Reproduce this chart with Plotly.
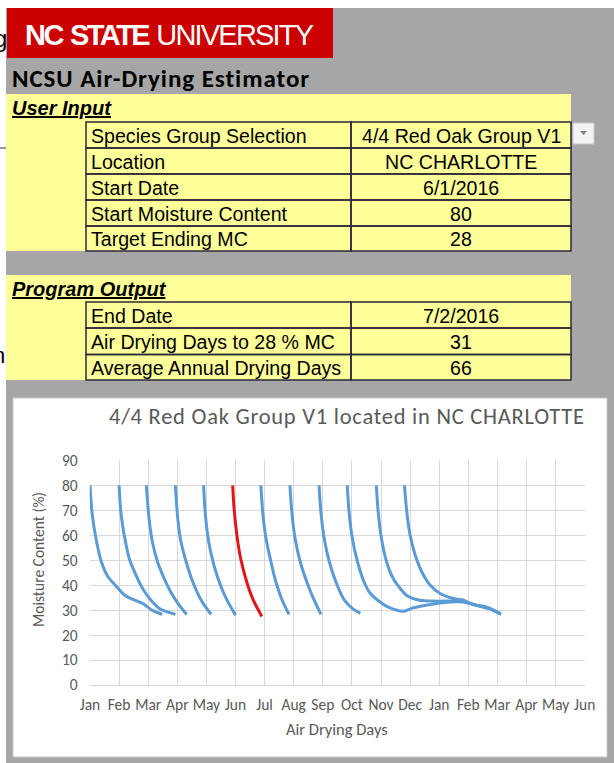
import plotly.graph_objects as go

W, H = 614, 763

# ---------------- data ----------------
tick_labels = ["Jan", "Feb", "Mar", "Apr", "May", "Jun", "Jul", "Aug", "Sep",
               "Oct", "Nov", "Dec", "Jan", "Feb", "Mar", "Apr", "May", "Jun"]
tick_step_days = 31
y_tick_values = [0, 10, 20, 30, 40, 50, 60, 70, 80, 90]

# start day (days after Jan 1 2016) of each drying run
start_days = [0, 31, 60, 91, 121, 152, 182, 213, 244, 274, 305, 335]
highlight_index = 5  # the June 1 run (selected start date)

curve_days = [
    [0, 2.5, 7, 12, 19, 27, 37, 51, 58, 66, 77],
    [0, 2, 5.5, 11, 18, 25, 34, 43, 60],
    [0, 3, 6.5, 12, 19, 26, 35, 43],
    [0, 2.5, 6, 11.5, 18.5, 27.5, 38],
    [0, 2, 5.5, 11, 18, 25, 34],
    [0, 1.5, 4.5, 8.5, 15, 22, 31],
    [0, 2, 5.5, 10, 15, 22, 30],
    [0, 2, 5.5, 11, 18, 25, 33],
    [0, 2, 5.5, 11, 18, 27, 35.5, 44],
    [0, 2, 5.5, 11, 18, 24, 35, 45, 60, 70, 84, 102, 123, 137, 150, 164],
    [0, 2, 5.5, 11, 18, 27, 32, 46, 64, 92, 106, 117, 131],
    [0, 2.5, 6, 11.5, 18.5, 27.5, 38, 52, 63, 70, 84, 91, 102],
]
curve_mc = [
    [80, 68, 57.5, 49.5, 43.5, 40, 36, 33.5, 32.3, 30, 28.3],
    [80, 69, 60, 50.5, 44, 38.7, 34, 30.7, 28.3],
    [80, 66.5, 57.3, 49.3, 42.7, 37.3, 32, 28.3],
    [80, 66.7, 57.3, 49.3, 41.3, 34, 28.3],
    [80, 68, 57.3, 48, 40, 34, 28],
    [80, 70.7, 60, 50.7, 41.3, 34, 27.5],
    [80, 69.3, 58.7, 50.7, 42.7, 34.7, 28.3],
    [80, 69.3, 58.7, 49.3, 41.3, 34.7, 28.3],
    [80, 69.3, 58.7, 49.3, 41.3, 34, 30.7, 28.7],
    [80, 69.3, 58.7, 49.3, 41.3, 37, 33.3, 31, 29.6, 30.9, 32, 33, 33.3, 32, 30.7, 28.3],
    [80, 69.3, 58.7, 49.3, 42.7, 38, 36, 34, 33.6, 33.6, 32, 31.3, 28.7],
    [80, 69.3, 60, 52, 45.3, 40, 36.7, 34.7, 34, 32.7, 31.3, 30.7, 28.7],
]

input_labels = ["Species Group Selection", "Location", "Start Date",
                "Start Moisture Content", "Target Ending MC"]
input_values = ["4/4 Red Oak Group V1", "NC CHARLOTTE", "6/1/2016", "80", "28"]
output_labels = ["End Date", "Air Drying Days to 28 % MC", "Average Annual Drying Days"]
output_values = ["7/2/2016", "31", "66"]

chart_title = "4/4 Red Oak Group V1 located in NC CHARLOTTE"
x_title = "Air Drying Days"
y_title = "Moisture Content (%)"

# ---------------- styling helpers ----------------
ARIAL = "Liberation Sans, Arial, sans-serif"
CALIBRI = "Carlito, Lato, sans-serif"
GRAY_TXT = "#595959"
BLUE = "#5b9bd5"
RED = "#e3151b"
YELLOW = "#ffff99"
BORDER = "#2a2a3a"


def px(x):
    return x / W


def py(y):
    return 1 - y / H


shapes = []
annotations = []


def rect(x0, y0, x1, y1, fill, line_color=None, lw=0):
    shapes.append(dict(type="rect", xref="paper", yref="paper",
                       x0=px(x0), x1=px(x1), y0=py(y1), y1=py(y0),
                       fillcolor=fill, layer="below",
                       line=dict(color=line_color or fill, width=lw)))


def text(t, x, y, size, family=ARIAL, color="black", xanchor="left",
         yanchor="middle", angle=0):
    annotations.append(dict(text=t, x=px(x), y=py(y), xref="paper", yref="paper",
                            xanchor=xanchor, yanchor=yanchor, showarrow=False,
                            textangle=angle, borderpad=0,
                            font=dict(family=family, size=size, color=color)))


def spaced(t, ls):
    return f'<span style="letter-spacing:{ls}px">{t}</span>'


# background sheet
rect(6, 8, 614, 763, "#a6a6a6")
# red banner
rect(7, 8, 333, 58, "#cc0000")
text(spaced("<b>NC</b>", -2.5) + " " + spaced("<b>STATE</b>", -2.5) + " "
     + spaced("UNIVERSITY", -1.8), 24, 34.5, 29, color="white")
text(spaced("<b>NCSU Air-Drying Estimator</b>", 0.95), 11, 78.5, 25, family=CALIBRI)

# user input block
rect(6, 94, 571, 251, YELLOW)
text("<b><i><u>User Input</u></i></b>", 11, 108, 20)
row_edges_in = [122, 148, 174, 200, 226, 251]
for i, (lab, val) in enumerate(zip(input_labels, input_values)):
    y0, y1 = row_edges_in[i], row_edges_in[i + 1]
    rect(86, y0, 351, y1, "rgba(0,0,0,0)", BORDER, 1.5)
    rect(351, y0, 571, y1, "rgba(0,0,0,0)", BORDER, 1.5)
    text(lab, 90, (y0 + y1) / 2 + 1, 19.6)
    text(val, 461, (y0 + y1) / 2 + 1, 19.6, xanchor="center")
# dropdown button
rect(573, 123, 594, 144, "#f4f4f4", "#c8c8c8", 1)
shapes.append(dict(type="path", xref="paper", yref="paper",
                   path=f"M {px(580)} {py(131)} L {px(587)} {py(131)} L {px(583.5)} {py(135)} Z",
                   fillcolor="#7f7f7f", line=dict(width=0)))

# program output block
rect(6, 275, 571, 380, YELLOW)
text("<b><i><u>Program Output</u></i></b>", 11, 289, 20)
row_edges_out = [302, 328, 354.5, 380]
for i, (lab, val) in enumerate(zip(output_labels, output_values)):
    y0, y1 = row_edges_out[i], row_edges_out[i + 1]
    rect(86, y0, 351, y1, "rgba(0,0,0,0)", BORDER, 1.5)
    rect(351, y0, 571, y1, "rgba(0,0,0,0)", BORDER, 1.5)
    text(lab, 90, (y0 + y1) / 2 + 1, 19.6)
    text(val, 461, (y0 + y1) / 2 + 1, 19.6, xanchor="center")

# page fragments at left edge
text("g", 8, 38, 24, xanchor="right")
text("n", 6, 355, 22, xanchor="right")
shapes.append(dict(type="line", xref="paper", yref="paper", x0=0, x1=px(6),
                   y0=py(148), y1=py(148), line=dict(color="#333", width=1)))

# chart box
rect(13, 398, 607, 757, "white", "#c8c8c8", 1)
text(spaced(chart_title, 0.75), 346.5, 416, 22.5, family=CALIBRI, color=GRAY_TXT, xanchor="center")
text(x_title, 337, 729, 16.5, family=CALIBRI, color=GRAY_TXT, xanchor="center")
text(y_title, 38, 560, 15.5, family=CALIBRI, color=GRAY_TXT, xanchor="center", angle=-90)

# ---------------- figure ----------------
fig = go.Figure()
order = [i for i in range(len(start_days)) if i != highlight_index] + [highlight_index]
for i in order:
    xs = [start_days[i] + d for d in curve_days[i]]
    fig.add_trace(go.Scatter(
        x=xs, y=curve_mc[i], mode="lines",
        line=dict(color=RED if i == highlight_index else BLUE, width=3,
                  shape="spline", smoothing=0.8),
        showlegend=False, hoverinfo="skip"))

tick_vals = [k * tick_step_days for k in range(len(tick_labels))]

fig.update_layout(
    width=W, height=H,
    margin=dict(l=0, r=0, t=0, b=0, autoexpand=False),
    paper_bgcolor="white", plot_bgcolor="white",
    shapes=shapes, annotations=annotations,
    showlegend=False,
    xaxis=dict(domain=[px(89.7), px(585)], range=[-0.3, tick_vals[-1] + 0.3],
               tickmode="array", tickvals=tick_vals, ticktext=tick_labels,
               showgrid=True, gridcolor="#d9d9d9", gridwidth=1,
               zeroline=False, showline=True, linecolor="#d9d9d9", linewidth=1,
               ticks="", automargin=False, ticklabelstandoff=5,
               tickfont=dict(family=CALIBRI, size=15.5, color=GRAY_TXT),
               fixedrange=True),
    yaxis=dict(domain=[1 - 685 / H, 1 - 460 / H], range=[0, 90.2],
               tickmode="array", tickvals=y_tick_values,
               showgrid=True, gridcolor="#d9d9d9", gridwidth=1,
               zeroline=False, showline=False, ticks="", automargin=False,
               ticklabelstandoff=11,
               tickfont=dict(family=CALIBRI, size=15.5, color=GRAY_TXT),
               fixedrange=True),
)

fig.write_html("out.html", config={"displayModeBar": False},
               post_script="document.body.style.margin='0px';document.body.style.overflow='hidden';")
